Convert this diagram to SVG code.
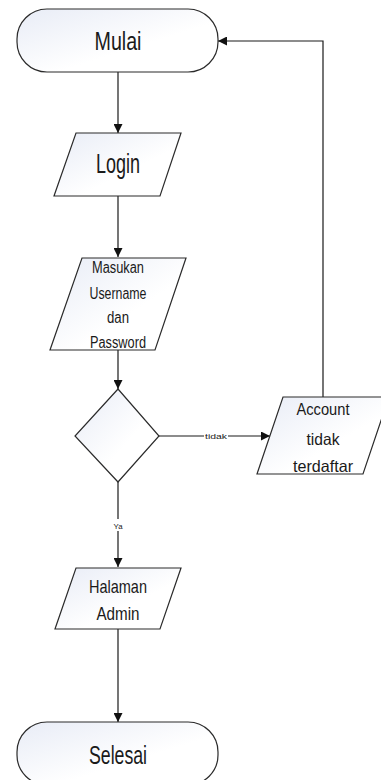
<svg xmlns="http://www.w3.org/2000/svg" width="381" height="780" viewBox="0 0 381 780">
<style>
.shape{fill:url(#g);stroke:#2b2b2b;stroke-width:1.2}
.t{font-family:"Liberation Sans",Arial,sans-serif;fill:#1a1a1a;text-anchor:middle}
.c{fill:none;stroke:#1a1a1a;stroke-width:1.2}
.lbl{font-family:"Liberation Sans",Arial,sans-serif;fill:#1a1a1a;text-anchor:middle;font-size:8px}
</style>
<defs>
<linearGradient id="g" x1="0" y1="0" x2="1" y2="1">
<stop offset="0" stop-color="#e8ecf6"/>
<stop offset="0.6" stop-color="#ffffff"/>
</linearGradient>
<marker id="a" viewBox="0 0 10 10" refX="10" refY="5" markerWidth="9" markerHeight="9" markerUnits="userSpaceOnUse" orient="auto">
<path d="M0,0 L10,5 L0,10 z" fill="#111"/>
</marker>
</defs>
<rect width="381" height="780" fill="#fff"/>
<g id="connectors">
<path class="c" d="M118,72 V133" marker-end="url(#a)"/>
<path class="c" d="M118,196 V257" marker-end="url(#a)"/>
<path class="c" d="M118,350 V389" marker-end="url(#a)"/>
<path class="c" d="M159,436 H270" marker-end="url(#a)"/>
<rect x="204" y="431" width="24" height="10" fill="#fff"/>
<text class="lbl" x="216" y="439" textLength="22" lengthAdjust="spacingAndGlyphs">tidak</text>
<path class="c" d="M323,397 V41 H218" marker-end="url(#a)"/>
<path class="c" d="M118,482 V567" marker-end="url(#a)"/>
<rect x="112" y="519" width="12" height="12" fill="#fff"/>
<text class="lbl" x="118" y="529" font-size="10" textLength="9" lengthAdjust="spacingAndGlyphs">Ya</text>
<path class="c" d="M118,629 V722" marker-end="url(#a)"/>
</g>
<g id="mulai">
<rect class="shape" x="17" y="9" width="201" height="63" rx="30" ry="30"/>
<text class="t" x="118" y="50" font-size="26" textLength="47" lengthAdjust="spacingAndGlyphs">Mulai</text>
</g>
<g id="login">
<polygon class="shape" points="76,133 181,133 160,196 54,196"/>
<text class="t" x="118" y="173" font-size="27" textLength="44" lengthAdjust="spacingAndGlyphs">Login</text>
</g>
<g id="input">
<polygon class="shape" points="82,258 186,258 155,350 50,350"/>
<text class="t" x="118" y="273" font-size="16" textLength="52" lengthAdjust="spacingAndGlyphs">Masukan</text>
<text class="t" x="118" y="299" font-size="16" textLength="57" lengthAdjust="spacingAndGlyphs">Username</text>
<text class="t" x="118" y="323" font-size="16" textLength="22" lengthAdjust="spacingAndGlyphs">dan</text>
<text class="t" x="118" y="348" font-size="16" textLength="56" lengthAdjust="spacingAndGlyphs">Password</text>
</g>
<g id="decision">
<polygon class="shape" points="118,389 159,436 118,482 75,436"/>
</g>
<g id="account">
<polygon class="shape" points="283,397 389,397 363,474 257,474"/>
<text class="t" x="323" y="415" font-size="16.5" textLength="53" lengthAdjust="spacingAndGlyphs">Account</text>
<text class="t" x="323" y="445" font-size="16.5" textLength="33" lengthAdjust="spacingAndGlyphs">tidak</text>
<text class="t" x="323" y="472" font-size="16.5" textLength="60" lengthAdjust="spacingAndGlyphs">terdaftar</text>
</g>
<g id="admin">
<polygon class="shape" points="76,568 181,568 160,629 55,629"/>
<text class="t" x="118" y="593" font-size="19" textLength="58" lengthAdjust="spacingAndGlyphs">Halaman</text>
<text class="t" x="118" y="620" font-size="19" textLength="43" lengthAdjust="spacingAndGlyphs">Admin</text>
</g>
<g id="selesai">
<rect class="shape" x="17" y="722" width="201" height="63" rx="30" ry="30"/>
<text class="t" x="118" y="764" font-size="25" textLength="58" lengthAdjust="spacingAndGlyphs">Selesai</text>
</g>
</svg>
